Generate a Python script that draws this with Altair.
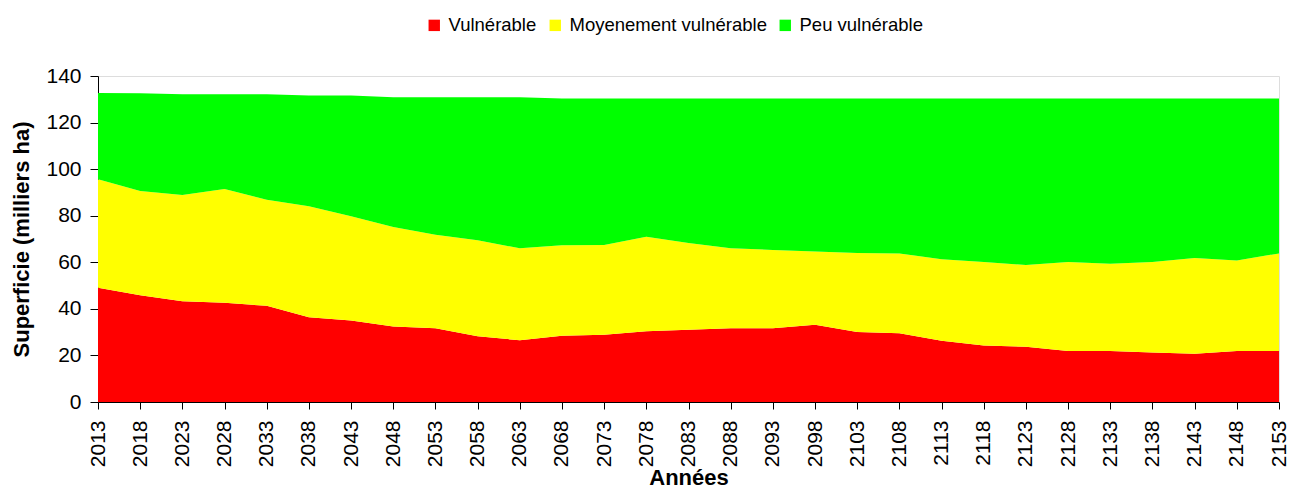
import altair as alt
import pandas as pd

years = list(range(2013, 2154, 5))

vulnerable = [49.1, 45.8, 43.3, 42.6, 41.3, 36.4, 35.0, 32.4, 31.7, 28.2,
              26.5, 28.5, 28.9, 30.4, 31.0, 31.7, 31.7, 33.2, 30.1, 29.5,
              26.3, 24.3, 23.7, 21.9, 21.9, 21.3, 20.7, 21.9, 21.9]
moyen = [46.6, 44.8, 45.6, 48.9, 45.6, 47.7, 44.8, 42.7, 40.1, 41.3,
         39.5, 38.8, 38.5, 40.6, 37.3, 34.3, 33.6, 31.4, 33.9, 34.3,
         35.0, 35.8, 35.1, 38.2, 37.5, 38.8, 41.1, 38.9, 41.9]
peu = [37.0, 42.0, 43.3, 40.7, 45.3, 47.5, 51.8, 55.8, 59.1, 61.4,
       64.9, 63.0, 62.9, 59.3, 62.0, 64.3, 65.0, 65.7, 66.3, 66.5,
       69.0, 70.2, 71.5, 70.2, 70.9, 70.2, 68.5, 69.5, 66.5]

series = ["Vulnérable", "Moyenement vulnérable", "Peu vulnérable"]
colors = ["#FF0000", "#FFFF00", "#00FF00"]
y_ticks = [0, 20, 40, 60, 80, 100, 120, 140]

rows = []
for i, y in enumerate(years):
    for k, (name, vals) in enumerate(zip(series, [vulnerable, moyen, peu])):
        rows.append({"Année": y, "Classe": name, "Valeur": vals[i], "ordre": k})
df = pd.DataFrame(rows)

FONT = "Liberation Sans"

chart = alt.Chart(df).mark_area(opacity=1, line=False).encode(
    x=alt.X("Année:Q",
            scale=alt.Scale(domain=[2013, 2153], nice=False, zero=False),
            axis=alt.Axis(values=years, format="d", labelAngle=270,
                          title="Années", grid=False, tickSize=7,
                          labelPadding=11, titlePadding=1,
                          labelFontSize=21, titleFontSize=22,
                          labelColor="black", titleColor="black",
                          domainColor="black", tickColor="black",
                          labelFont=FONT, titleFont=FONT,
                          titleFontWeight="bold", labelFlush=False,
                          labelOverlap=False)),
    y=alt.Y("Valeur:Q", stack="zero",
            scale=alt.Scale(domain=[0, 140], nice=False),
            axis=alt.Axis(values=y_ticks, title="Superficie (milliers ha)",
                          grid=False, tickSize=8, labelPadding=9,
                          titlePadding=12,
                          labelFontSize=21, titleFontSize=22,
                          labelColor="black", titleColor="black",
                          domainColor="black", tickColor="black",
                          labelFont=FONT, titleFont=FONT,
                          titleFontWeight="bold")),
    color=alt.Color("Classe:N",
                    scale=alt.Scale(domain=series, range=colors),
                    legend=alt.Legend(title=None, orient="none",
                                      direction="horizontal",
                                      legendX=327, legendY=-60,
                                      symbolType="square", symbolSize=130,
                                      symbolStrokeWidth=0,
                                      labelFontSize=18.5, labelFont=FONT,
                                      labelColor="black", labelOffset=5,
                                      labelLimit=0, columnPadding=9)),
    order=alt.Order("ordre:Q", sort="ascending"),
).properties(
    width=1181, height=326,
    autosize=alt.AutoSizeParams(type="none"),
    padding={"left": 90, "top": 68, "right": 12, "bottom": 89},
).configure_view(stroke=None).configure(background="white")

chart.save("out.html", embed_options={"renderer": "svg", "actions": False})
